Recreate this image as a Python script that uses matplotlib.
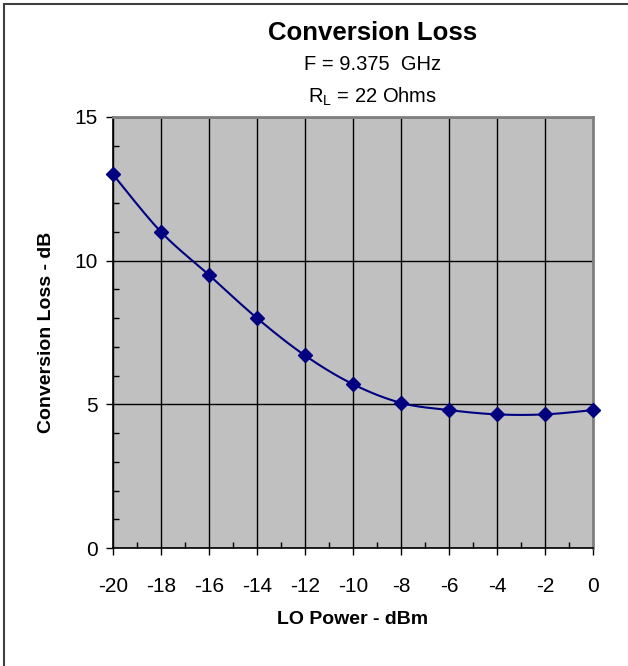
#!/usr/bin/env python

import numpy as np
import matplotlib.pyplot as plt
from matplotlib.patches import Rectangle

lo_power = [-20, -18, -16, -14, -12, -10, -8, -6, -4, -2, 0]
conv_loss = [13.0, 11.0, 9.5, 8.0, 6.7, 5.7, 5.05, 4.8, 4.65, 4.65, 4.8]
x_ticks = [-20, -18, -16, -14, -12, -10, -8, -6, -4, -2, 0]
y_ticks = [0, 5, 10, 15]


def smooth(xs, ys, n=20):
    # Excel-style smoothed line (Catmull-Rom through the points)
    px = [xs[0]] + list(xs) + [xs[-1]]
    py = [ys[0]] + list(ys) + [ys[-1]]
    out_x, out_y = [], []
    t = np.linspace(0, 1, n)
    for i in range(1, len(px) - 2):
        x0, x1, x2, x3 = px[i - 1], px[i], px[i + 1], px[i + 2]
        y0, y1, y2, y3 = py[i - 1], py[i], py[i + 1], py[i + 2]
        c1x, c1y = x1 + (x2 - x0) / 6.0, y1 + (y2 - y0) / 6.0
        c2x, c2y = x2 - (x3 - x1) / 6.0, y2 - (y3 - y1) / 6.0
        bx = (1 - t) ** 3 * x1 + 3 * (1 - t) ** 2 * t * c1x + 3 * (1 - t) * t ** 2 * c2x + t ** 3 * x2
        by = (1 - t) ** 3 * y1 + 3 * (1 - t) ** 2 * t * c1y + 3 * (1 - t) * t ** 2 * c2y + t ** 3 * y2
        out_x.extend(bx)
        out_y.extend(by)
    return out_x, out_y


def main():
    plt.rcParams['font.family'] = ['Liberation Sans', 'DejaVu Sans']
    plt.rcParams['axes.unicode_minus'] = False
    fig = plt.figure(figsize=(6.28, 6.66), dpi=100)
    ax = fig.add_axes([113 / 628, 118 / 666, 480 / 628, 431 / 666])
    ax.set_facecolor('#C0C0C0')

    ax.set_xlim(-20, 0)
    ax.set_ylim(0, 15)
    ax.set_xticks(x_ticks)
    ax.set_yticks(y_ticks)
    ax.set_xticks(np.arange(-19, 0, 2), minor=True)
    ax.set_yticks(np.arange(1, 15, 1), minor=True)
    ax.tick_params(which='major', direction='out', length=5, width=1, labelsize=15)
    ax.tick_params(axis='x', which='major', pad=16)
    ax.tick_params(axis='y', which='major', pad=6)
    ax.tick_params(which='minor', direction='in', length=4, width=1)

    ax.grid(True, which='major', color='black', linewidth=1)
    ax.set_axisbelow(True)

    for side in ['top', 'right']:
        ax.spines[side].set_color('#808080')
        ax.spines[side].set_linewidth(2)
    for side in ['left', 'bottom']:
        ax.spines[side].set_color('black')
        ax.spines[side].set_linewidth(1.2)

    sx, sy = smooth(lo_power, conv_loss)
    ax.plot(sx, sy, color='#000080', linewidth=1.5, zorder=3)
    ax.plot(lo_power, conv_loss, linestyle='none', marker='D', markersize=7.5,
            color='#000080', zorder=4, clip_on=False)

    ax.set_xlabel('LO Power - dBm', fontsize=14, fontweight='bold', labelpad=11)
    ax.set_ylabel('Conversion Loss - dB', fontsize=14, fontweight='bold', labelpad=14)

    fig.text(373 / 628, 1 - 33 / 666, 'Conversion Loss', fontsize=18.5, fontweight='bold',
             ha='center', va='center')
    fig.text(373 / 628, 1 - 65 / 666, 'F = 9.375  GHz', fontsize=14.5, ha='center', va='center')
    fig.text(373 / 628, 1 - 97 / 666, r'R$_\mathregular{L}$ = 22 Ohms', fontsize=14.5,
             ha='center', va='center')

    fig.patches.append(Rectangle((4 / 628, -0.01), 1.0, 1 - 4 / 666 + 0.01,
                                 transform=fig.transFigure, fill=False,
                                 edgecolor='#404040', linewidth=1.5))

    fig.savefig('out.png', dpi=100)
    plt.close()


if __name__ == '__main__':
    main()
